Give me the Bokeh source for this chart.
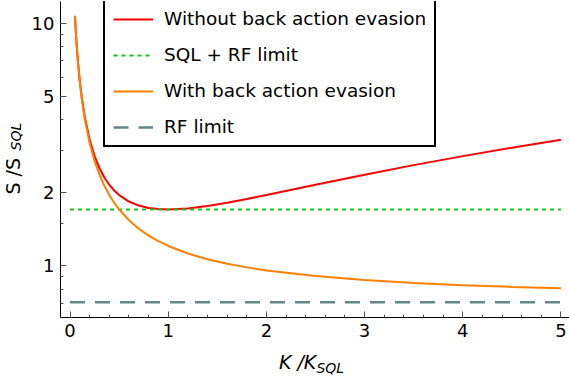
from bokeh.plotting import figure
from bokeh.layouts import row, column
from bokeh.models import Range1d, FixedTicker, PrintfTickFormatter, Legend, LegendItem
from bokeh.core.properties import value
from bokeh.embed import file_html
from bokeh.resources import INLINE
import math

# ---- data ----
k = [0.05, 0.06, 0.07, 0.08, 0.10, 0.12, 0.15, 0.20, 0.25, 0.30, 0.35, 0.40, 0.45,
     0.50, 0.60, 0.70, 0.80, 0.90, 1.00, 1.20, 1.40, 1.60, 1.80, 2.00, 2.50, 3.00,
     3.50, 4.00, 4.50, 5.00]
s_without_bae = [10.732, 9.070, 7.885, 6.997, 5.757, 4.934, 4.115, 3.307, 2.832, 2.524,
                 2.311, 2.157, 2.043, 1.957, 1.840, 1.771, 1.732, 1.713, 1.707, 1.724,
                 1.764, 1.820, 1.885, 1.957, 2.157, 2.374, 2.600, 2.832, 3.068, 3.307]
s_with_bae = [10.707, 9.040, 7.850, 6.957, 5.707, 4.874, 4.040, 3.207, 2.707, 2.374,
              2.136, 1.957, 1.818, 1.707, 1.540, 1.421, 1.332, 1.263, 1.207, 1.124,
              1.064, 1.020, 0.985, 0.957, 0.907, 0.874, 0.850, 0.832, 0.818, 0.807]
limit_k = [0.0, 5.0]
sql_rf_limit = [1.707, 1.707]
rf_limit = [0.707, 0.707]

x_major = [0, 1, 2, 3, 4, 5]
x_minor = [0.2, 0.4, 0.6, 0.8, 1.2, 1.4, 1.6, 1.8, 2.2, 2.4, 2.6, 2.8,
           3.2, 3.4, 3.6, 3.8, 4.2, 4.4, 4.6, 4.8]
y_major = [1, 2, 5, 10]
y_minor = [0.7, 0.8, 0.9, 1.5, 3, 4, 6, 7, 8, 9]

FONT = "DejaVu Sans"
W, H = 569, 378
YLAB_W = 26
MAIN_H = 348

# ---------------- main plot ----------------
p = figure(width=W - YLAB_W, height=MAIN_H, y_axis_type="log",
           x_range=Range1d(-0.097, 5.087), y_range=Range1d(0.612, 12.29),
           output_backend="svg", toolbar_location=None,
           min_border_left=34, min_border_right=0, min_border_top=1, min_border_bottom=31)
p.outline_line_color = None
p.xgrid.visible = False
p.ygrid.visible = False
p.background_fill_color = "white"

for ax in (p.xaxis[0], p.yaxis[0]):
    ax.axis_line_color = "black"
    ax.axis_line_width = 1
    ax.major_tick_in = 6
    ax.major_tick_out = 0
    ax.minor_tick_in = 3
    ax.minor_tick_out = 0
    ax.major_tick_line_color = "#555555"
    ax.minor_tick_line_color = "#555555"
    ax.major_label_text_font = FONT
    ax.major_label_text_font_size = "18px"
    ax.major_label_text_color = "black"
    ax.major_label_standoff = 6

p.xaxis.ticker = FixedTicker(ticks=x_major, minor_ticks=x_minor)
p.yaxis.ticker = FixedTicker(ticks=y_major, minor_ticks=y_minor)
p.xaxis.formatter = PrintfTickFormatter(format="%d")
p.yaxis.formatter = PrintfTickFormatter(format="%d")

r_red = p.line(k, s_without_bae, line_color="#FF0000", line_width=2)
r_green = p.line(limit_k, sql_rf_limit, line_color="#14C814", line_width=2, line_dash="4 4")
r_orange = p.line(k, s_with_bae, line_color="#FF8000", line_width=2)
r_gray = p.line(limit_k, rf_limit, line_color="#608888", line_width=2.5, line_dash="15 10")

legend = Legend(items=[
    LegendItem(label="Without back action evasion", renderers=[r_red]),
    LegendItem(label="SQL + RF limit", renderers=[r_green]),
    LegendItem(label="With back action evasion", renderers=[r_orange]),
    LegendItem(label="RF limit", renderers=[r_gray]),
], location=(43, 170))
legend.label_text_font = FONT
legend.label_text_font_size = "18.5px"
legend.label_text_color = "black"
legend.padding = 8
legend.spacing = 15
legend.margin = 0
legend.label_height = 20
legend.glyph_height = 20
legend.glyph_width = 40
legend.label_standoff = 11
legend.border_line_color = "black"
legend.border_line_alpha = 1.0
legend.border_line_width = 2
legend.background_fill_color = "white"
legend.background_fill_alpha = 1
p.add_layout(legend)


def strip(width, height):
    s = figure(width=width, height=height, x_range=Range1d(0, width), y_range=Range1d(0, height),
               output_backend="svg", toolbar_location=None,
               x_axis_location=None, y_axis_location=None,
               min_border_left=0, min_border_right=0, min_border_top=0, min_border_bottom=0)
    s.outline_line_color = None
    s.xgrid.visible = False
    s.ygrid.visible = False
    return s


# ---------------- x-axis title strip: "K /K_SQL" ----------------
xl = strip(W - YLAB_W, H - MAIN_H)
xl.text(x=[233], y=[16.5], text=["K /K"], text_font=value(FONT), text_font_style="italic",
        text_font_size="19px", text_align="left", text_baseline="alphabetic", text_color="black")
xl.text(x=[273], y=[11], text=["SQL"], text_font=value(FONT), text_font_style="italic",
        text_font_size="14px", text_align="left", text_baseline="alphabetic", text_color="black")

# ---------------- y-axis title strip: "S /S_SQL" ----------------
yl = strip(YLAB_W, H)
yl.text(x=[12], y=[184], text=["S /S"], text_font=value(FONT),
        text_font_size="19px", angle=math.pi / 2, text_align="left", text_baseline="alphabetic",
        text_color="black")
yl.text(x=[15.5], y=[228], text=["SQL"], text_font=value(FONT), text_font_style="italic",
        text_font_size="14px", angle=math.pi / 2, text_align="left", text_baseline="alphabetic",
        text_color="black")

layout = row(yl, column(p, xl, spacing=0), spacing=0)
open("out.html", "w").write(file_html(layout, INLINE))
